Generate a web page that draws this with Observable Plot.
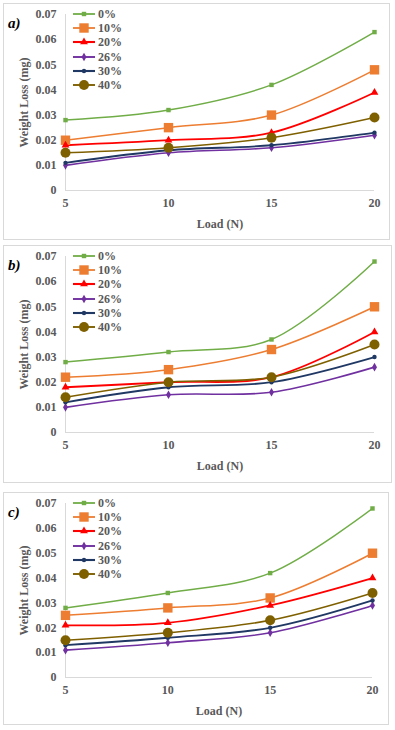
<!DOCTYPE html>
<html><head><meta charset="utf-8">
<script src="https://cdn.jsdelivr.net/npm/d3@7"></script>
<script src="https://cdn.jsdelivr.net/npm/@observablehq/plot@0.6"></script>
<style>
body{margin:0;background:#fff;width:395px;height:730px;position:relative;overflow:hidden;font-family:"Liberation Serif","Times New Roman",serif;}
.panel{position:absolute;left:3px;border:1px solid #d9d9d9;box-sizing:border-box;background:#fff;}
.panel svg{position:absolute;left:0;top:0;}
.tag{position:absolute;left:4px;font:italic bold 15px/1 "Liberation Serif",serif;color:#000;}
.legend{position:absolute;left:69px;font:bold 12px/1 "Liberation Serif",serif;color:#595959;}
.legend .row{display:flex;align-items:center;height:14.2px;}
.legend .row svg{position:static;display:block;}
.legend .row span{margin-left:3px;}
</style></head><body>
<script>
// ---- data ----
const loads = [5, 10, 15, 20];
const seriesNames = ["0%", "10%", "20%", "26%", "30%", "40%"];
const seriesColors = ["#70AD47", "#ED7D31", "#FF0000", "#7030A0", "#203864", "#7F6000"];
const seriesSymbols = ["square", "square", "triangle", "diamond", "circle", "circle"];
const yTicks = [0, 0.01, 0.02, 0.03, 0.04, 0.05, 0.06, 0.07];
const xTicks = [5, 10, 15, 20];
const panelLabels = ["a)", "b)", "c)"];

// weight loss (mg), one row per series, one value per load
const lossA = [
  [0.028, 0.032, 0.042, 0.063],
  [0.020, 0.025, 0.030, 0.048],
  [0.018, 0.020, 0.023, 0.039],
  [0.010, 0.015, 0.017, 0.022],
  [0.011, 0.016, 0.018, 0.023],
  [0.015, 0.017, 0.021, 0.029]
];
const lossB = [
  [0.028, 0.032, 0.037, 0.068],
  [0.022, 0.025, 0.033, 0.050],
  [0.018, 0.020, 0.022, 0.040],
  [0.010, 0.015, 0.016, 0.026],
  [0.012, 0.018, 0.020, 0.030],
  [0.014, 0.020, 0.022, 0.035]
];
const lossC = [
  [0.028, 0.034, 0.042, 0.068],
  [0.025, 0.028, 0.032, 0.050],
  [0.021, 0.022, 0.029, 0.040],
  [0.011, 0.014, 0.018, 0.029],
  [0.013, 0.016, 0.020, 0.031],
  [0.015, 0.018, 0.023, 0.034]
];
const panelData = [lossA, lossB, lossC];

// ---- layout (positions / sizes only) ----
const layout = [
  {top: 3, w: 387, h: 237, span: 176, mr: 15},
  {top: 245, w: 389, h: 238, span: 176, mr: 17},
  {top: 492, w: 386, h: 233, span: 174, mr: 16}
];
const markerR = [2.5, 5.3, 2.9, 2.6, 2.2, 5];
const lineW = [1.5, 1.5, 1.8, 1.6, 1.8, 1.6];
const color = d3.scaleOrdinal(seriesNames, seriesColors);
const sym = d3.scaleOrdinal(seriesNames, seriesSymbols);

panelData.forEach((loss, p) => {
  const L = layout[p];
  const innerW = L.w - 2, innerH = L.h - 2;
  const mt = 10, mb = innerH - mt - L.span;
  const rows = [];
  loss.forEach((vals, s) => vals.forEach((v, i) => rows.push({load: loads[i], loss: v, series: seriesNames[s], si: s})));

  const marks = [
    Plot.ruleY([0], {stroke: "#d9d9d9", strokeWidth: 1}),
    Plot.ruleX([5], {stroke: "#d9d9d9", strokeWidth: 1}),
    Plot.axisX({ticks: xTicks, tickSize: 0, tickPadding: 8, label: "Load (N)", labelAnchor: "center", labelArrow: "none", labelOffset: 37, fill: "#595959"}),
    Plot.axisY({ticks: yTicks, tickSize: 0, tickPadding: 9, tickFormat: d => d === 0 ? "0" : d.toFixed(2), label: "Weight Loss (mg)", labelAnchor: "center", labelArrow: "none", labelOffset: 46, fill: "#595959"})
  ];
  seriesNames.forEach((name, s) => {
    const d = rows.filter(r => r.si === s);
    marks.push(Plot.line(d, {x: "load", y: "loss", stroke: seriesColors[s], strokeWidth: lineW[s], curve: "catmull-rom"}));
  });
  seriesNames.forEach((name, s) => {
    const d = rows.filter(r => r.si === s);
    marks.push(Plot.dot(d, {x: "load", y: "loss", symbol: () => seriesSymbols[s], fill: seriesColors[s], stroke: "none", r: markerR[s]}));
  });

  const chart = Plot.plot({
    width: innerW, height: innerH,
    marginLeft: 61, marginRight: L.mr, marginTop: mt, marginBottom: mb,
    x: {domain: [5, 20]},
    y: {domain: [0, 0.07]},
    symbol: {type: "identity"},
    style: {fontFamily: "'Liberation Serif', 'Times New Roman', serif", fontSize: "12px", fontWeight: "bold", color: "#595959", background: "transparent", overflow: "visible"},
    marks
  });

  const panel = document.createElement("div");
  panel.className = "panel";
  panel.style.top = L.top + "px";
  panel.style.width = L.w + "px";
  panel.style.height = L.h + "px";
  panel.appendChild(chart);

  const tag = document.createElement("div");
  tag.className = "tag";
  tag.textContent = panelLabels[p];
  tag.style.top = "12px";
  panel.appendChild(tag);

  const legend = document.createElement("div");
  legend.className = "legend";
  legend.style.top = (mt - 7) + "px";
  seriesNames.forEach((name, s) => {
    const row = document.createElement("div");
    row.className = "row";
    const sv = d3.create("svg").attr("width", 22).attr("height", 14);
    sv.append("line").attr("x1", 0).attr("x2", 22).attr("y1", 7).attr("y2", 7)
      .attr("stroke", seriesColors[s]).attr("stroke-width", lineW[s] + 0.3);
    const typ = {square: d3.symbolSquare, triangle: d3.symbolTriangle, diamond: d3.symbolDiamond, circle: d3.symbolCircle}[seriesSymbols[s]];
    sv.append("path").attr("transform", "translate(11,7)")
      .attr("d", d3.symbol(typ, Math.PI * markerR[s] * markerR[s])())
      .attr("fill", seriesColors[s]);
    row.appendChild(sv.node());
    const t = document.createElement("span");
    t.textContent = name;
    row.appendChild(t);
    legend.appendChild(row);
  });
  panel.appendChild(legend);
  document.body.appendChild(panel);
});
</script>
</body></html>
